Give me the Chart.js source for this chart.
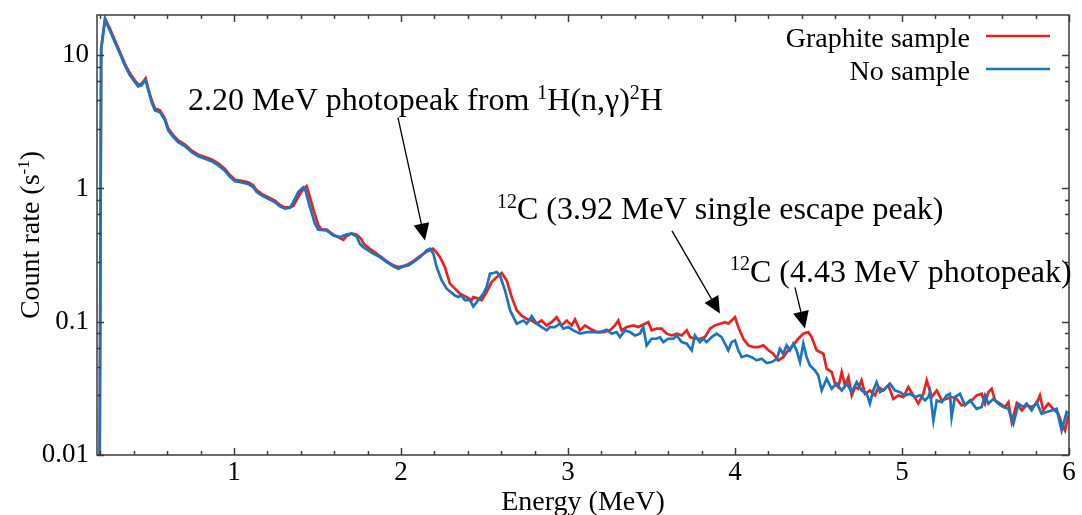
<!DOCTYPE html>
<html>
<head>
<meta charset="utf-8">
<script src="https://cdn.jsdelivr.net/npm/chart.js@4.4.1/dist/chart.umd.min.js"></script>
<style>
  body { margin: 0; background: #fff; }
</style>
</head>
<body>
<canvas id="spectrum" width="1082" height="515"></canvas>
<script>
// Graphite sample spectrum (MeV, counts/s)
const graphiteEnergy = [0.195, 0.205, 0.228, 0.257, 0.287, 0.317, 0.347, 0.377, 0.407, 0.427, 0.447, 0.471, 0.487, 0.507, 0.527, 0.557, 0.587, 0.607, 0.637, 0.666, 0.707, 0.747, 0.786, 0.826, 0.866, 0.906, 0.946, 0.976, 1.006, 1.046, 1.086, 1.116, 1.136, 1.166, 1.205, 1.245, 1.275, 1.305, 1.335, 1.355, 1.385, 1.415, 1.435, 1.445, 1.475, 1.505, 1.525, 1.555, 1.595, 1.655, 1.675, 1.705, 1.735, 1.76, 1.78, 1.81, 1.84, 1.874, 1.914, 1.954, 1.984, 2.014, 2.044, 2.074, 2.114, 2.154, 2.192, 2.214, 2.234, 2.263, 2.293, 2.323, 2.353, 2.393, 2.423, 2.433, 2.463, 2.483, 2.513, 2.543, 2.573, 2.603, 2.633, 2.663, 2.693, 2.722, 2.752, 2.782, 2.812, 2.842, 2.872, 2.902, 2.932, 2.962, 2.992, 3.022, 3.042, 3.072, 3.102, 3.132, 3.172, 3.211, 3.251, 3.281, 3.301, 3.321, 3.351, 3.391, 3.421, 3.461, 3.481, 3.501, 3.531, 3.561, 3.591, 3.621, 3.651, 3.681, 3.711, 3.731, 3.76, 3.79, 3.82, 3.85, 3.88, 3.91, 3.94, 3.96, 3.98, 4.0, 4.02, 4.05, 4.08, 4.11, 4.14, 4.17, 4.2, 4.229, 4.259, 4.289, 4.319, 4.349, 4.379, 4.409, 4.439, 4.459, 4.489, 4.529, 4.549, 4.579, 4.599, 4.619, 4.639, 4.659, 4.679, 4.699, 4.719, 4.738, 4.758, 4.778, 4.808, 4.838, 4.858, 4.888, 4.918, 4.948, 4.978, 5.008, 5.038, 5.068, 5.098, 5.128, 5.148, 5.178, 5.208, 5.238, 5.268, 5.297, 5.327, 5.357, 5.387, 5.417, 5.447, 5.477, 5.497, 5.517, 5.537, 5.557, 5.587, 5.617, 5.637, 5.657, 5.687, 5.717, 5.746, 5.776, 5.806, 5.826, 5.846, 5.876, 5.906, 5.936, 5.956, 5.976, 5.996];
const graphiteRate = [0.004, 11.3, 18.9, 15.8, 12.9, 10.6, 8.6, 7.3, 6.45, 6.0, 6.1, 6.7, 5.6, 4.6, 3.97, 3.85, 3.34, 2.81, 2.5, 2.29, 2.13, 1.92, 1.79, 1.72, 1.65, 1.54, 1.4, 1.26, 1.16, 1.14, 1.11, 1.05, 0.97, 0.91, 0.86, 0.81, 0.75, 0.72, 0.72, 0.74, 0.86, 0.99, 1.04, 0.95, 0.7, 0.53, 0.49, 0.49, 0.45, 0.412, 0.44, 0.46, 0.45, 0.42, 0.38, 0.355, 0.335, 0.31, 0.285, 0.265, 0.257, 0.262, 0.27, 0.285, 0.31, 0.335, 0.353, 0.33, 0.305, 0.257, 0.193, 0.177, 0.162, 0.153, 0.145, 0.153, 0.149, 0.145, 0.167, 0.198, 0.216, 0.232, 0.204, 0.153, 0.122, 0.111, 0.105, 0.102, 0.0966, 0.102, 0.0938, 0.0993, 0.108, 0.0938, 0.102, 0.0938, 0.104, 0.0861, 0.0938, 0.0886, 0.0836, 0.0836, 0.0861, 0.0938, 0.102, 0.0861, 0.0912, 0.0938, 0.0912, 0.0966, 0.0993, 0.0861, 0.0886, 0.0886, 0.0813, 0.0789, 0.0813, 0.0789, 0.0861, 0.0766, 0.0745, 0.0745, 0.0766, 0.0886, 0.0938, 0.0966, 0.0993, 0.0966, 0.102, 0.108, 0.0912, 0.0745, 0.0664, 0.0645, 0.0645, 0.0664, 0.061, 0.0575, 0.0513, 0.0542, 0.061, 0.0664, 0.0745, 0.0813, 0.0836, 0.0766, 0.061, 0.0575, 0.0444, 0.0419, 0.0343, 0.0323, 0.0419, 0.0333, 0.0384, 0.028, 0.0323, 0.0314, 0.0363, 0.0288, 0.0305, 0.028, 0.0323, 0.0305, 0.0333, 0.0264, 0.028, 0.0272, 0.0323, 0.028, 0.0243, 0.0288, 0.0363, 0.0272, 0.0305, 0.0257, 0.0264, 0.0272, 0.0264, 0.0236, 0.0243, 0.0257, 0.028, 0.0288, 0.0243, 0.0296, 0.0314, 0.0257, 0.0243, 0.0229, 0.0249, 0.0177, 0.0243, 0.0216, 0.0236, 0.0229, 0.0243, 0.028, 0.0216, 0.0243, 0.0222, 0.0204, 0.0172, 0.0153, 0.0198];

// Background run, no sample
const noSampleEnergy = [0.195, 0.205, 0.228, 0.257, 0.287, 0.317, 0.347, 0.377, 0.407, 0.427, 0.447, 0.471, 0.487, 0.507, 0.527, 0.557, 0.587, 0.607, 0.637, 0.666, 0.707, 0.747, 0.786, 0.826, 0.866, 0.906, 0.946, 0.976, 1.006, 1.046, 1.086, 1.116, 1.136, 1.166, 1.205, 1.245, 1.275, 1.305, 1.335, 1.355, 1.385, 1.415, 1.425, 1.455, 1.485, 1.505, 1.555, 1.595, 1.635, 1.675, 1.705, 1.735, 1.754, 1.774, 1.804, 1.834, 1.874, 1.914, 1.954, 1.984, 2.014, 2.044, 2.074, 2.114, 2.154, 2.174, 2.194, 2.214, 2.244, 2.274, 2.323, 2.343, 2.363, 2.383, 2.413, 2.433, 2.463, 2.493, 2.513, 2.533, 2.553, 2.573, 2.593, 2.623, 2.653, 2.693, 2.733, 2.753, 2.783, 2.813, 2.843, 2.872, 2.892, 2.922, 2.952, 2.972, 3.002, 3.032, 3.072, 3.112, 3.152, 3.192, 3.232, 3.262, 3.291, 3.311, 3.341, 3.371, 3.401, 3.431, 3.451, 3.471, 3.501, 3.531, 3.551, 3.571, 3.601, 3.631, 3.651, 3.681, 3.711, 3.741, 3.76, 3.79, 3.81, 3.83, 3.86, 3.89, 3.92, 3.94, 3.96, 3.98, 4.0, 4.02, 4.04, 4.07, 4.1, 4.13, 4.16, 4.19, 4.22, 4.25, 4.269, 4.289, 4.309, 4.329, 4.349, 4.369, 4.389, 4.409, 4.429, 4.449, 4.479, 4.499, 4.519, 4.549, 4.579, 4.609, 4.639, 4.669, 4.699, 4.729, 4.759, 4.789, 4.808, 4.828, 4.848, 4.868, 4.898, 4.928, 4.958, 4.988, 5.018, 5.048, 5.078, 5.108, 5.138, 5.158, 5.168, 5.188, 5.208, 5.238, 5.268, 5.287, 5.297, 5.317, 5.347, 5.377, 5.407, 5.447, 5.477, 5.497, 5.517, 5.547, 5.577, 5.607, 5.637, 5.667, 5.697, 5.727, 5.746, 5.776, 5.806, 5.836, 5.866, 5.896, 5.926, 5.956, 5.986, 6.0];
const noSampleRate = [0.004, 11.0, 18.4, 15.3, 12.5, 10.3, 8.37, 7.05, 6.27, 5.82, 5.93, 6.54, 5.43, 4.44, 3.85, 3.73, 3.24, 2.72, 2.43, 2.22, 2.07, 1.87, 1.74, 1.67, 1.6, 1.49, 1.36, 1.22, 1.13, 1.11, 1.08, 1.02, 0.938, 0.886, 0.837, 0.789, 0.733, 0.705, 0.717, 0.789, 0.938, 1.02, 0.995, 0.724, 0.543, 0.49, 0.484, 0.444, 0.431, 0.452, 0.457, 0.436, 0.385, 0.363, 0.343, 0.324, 0.305, 0.28, 0.26, 0.25, 0.26, 0.264, 0.28, 0.305, 0.343, 0.353, 0.324, 0.257, 0.204, 0.177, 0.157, 0.153, 0.157, 0.145, 0.145, 0.13, 0.145, 0.162, 0.182, 0.229, 0.232, 0.236, 0.222, 0.172, 0.122, 0.0966, 0.102, 0.0966, 0.11, 0.0966, 0.0912, 0.0861, 0.0912, 0.0912, 0.0966, 0.0886, 0.0912, 0.0861, 0.0813, 0.0836, 0.0836, 0.0836, 0.0871, 0.0813, 0.0836, 0.0766, 0.0861, 0.0836, 0.0789, 0.0813, 0.0912, 0.0664, 0.0745, 0.0745, 0.0766, 0.0703, 0.0745, 0.0745, 0.0789, 0.0703, 0.0684, 0.061, 0.0789, 0.0703, 0.0745, 0.0703, 0.0766, 0.0813, 0.0766, 0.0684, 0.061, 0.0703, 0.0724, 0.061, 0.0542, 0.0558, 0.0542, 0.0513, 0.0527, 0.0489, 0.0498, 0.0527, 0.0627, 0.0575, 0.0664, 0.061, 0.0684, 0.061, 0.0498, 0.0684, 0.0542, 0.047, 0.0431, 0.0395, 0.0305, 0.0373, 0.0314, 0.0343, 0.0305, 0.0343, 0.0296, 0.0352, 0.0305, 0.0288, 0.0243, 0.0305, 0.0352, 0.0296, 0.0314, 0.0343, 0.0305, 0.0296, 0.028, 0.0288, 0.0272, 0.028, 0.0257, 0.0272, 0.0296, 0.0182, 0.0257, 0.0249, 0.028, 0.0288, 0.0192, 0.0272, 0.0288, 0.0236, 0.0257, 0.0222, 0.0229, 0.028, 0.0243, 0.0264, 0.0243, 0.0229, 0.0222, 0.0172, 0.0243, 0.0229, 0.0243, 0.0216, 0.0249, 0.0204, 0.021, 0.0216, 0.0222, 0.0153, 0.021, 0.0204];

const xTickValues = [1, 2, 3, 4, 5, 6];
const yTickValues = [0.01, 0.1, 1, 10];

const serif = 'Liberation Serif, Times New Roman, serif';

// labelled peaks: text anchor (left, baseline) and arrow, in data coordinates
const notes = [
  { parts: [['2.20 MeV photopeak from '], ['1', 1], ['H(n,\u03b3)'], ['2', 1], ['H']], at: [0.725, 3.85], from: [1.982, 3.4], to: [2.144, 0.407] },
  { parts: [['12', 1], ['C (3.92 MeV single escape peak)']], at: [2.575, 0.585], from: [3.623, 0.48], to: [3.91, 0.115] },
  { parts: [['12', 1], ['C (4.43 MeV photopeak)']], at: [3.97, 0.2], from: [4.359, 0.181], to: [4.419, 0.0891] }
];

function toPoints(xs, ys) {
  return xs.map((e, i) => ({ x: e, y: ys[i] }));
}

function richText(ctx, parts, x, y, size) {
  let cx = x;
  parts.forEach(p => {
    const sup = p[1];
    ctx.font = (sup ? Math.round(size * 0.62) : size) + 'px ' + serif;
    ctx.fillText(p[0], cx, sup ? y - size * 0.36 : y);
    cx += ctx.measureText(p[0]).width;
  });
}

const framePlugin = {
  id: 'frame',
  afterDatasetsDraw(chart) {
    const { ctx, chartArea: a, scales: { x, y } } = chart;
    ctx.save();
    ctx.strokeStyle = '#3c3c3c';
    ctx.lineWidth = 1.5;
    ctx.strokeRect(a.left, a.top, a.right - a.left, a.bottom - a.top);

    ctx.beginPath();
    for (let k = 1; k <= 30; k++) {
      const v = k / 5;
      if (v < x.min) continue;
      const len = k % 5 === 0 ? 7 : 4;
      const px = Math.round(x.getPixelForValue(v)) + 0.5;
      ctx.moveTo(px, a.bottom); ctx.lineTo(px, a.bottom - len);
      ctx.moveTo(px, a.top); ctx.lineTo(px, a.top + len);
    }
    yTickValues.forEach(d => {
      for (let k = 0; k < 5; k++) {
        const v = d * (1 + 1.8 * k);
        if (v > y.max) continue;
        const len = k === 0 ? 7 : 4;
        const py = Math.round(y.getPixelForValue(v)) + 0.5;
        ctx.moveTo(a.left, py); ctx.lineTo(a.left + len, py);
        ctx.moveTo(a.right, py); ctx.lineTo(a.right - len, py);
      }
    });
    ctx.stroke();

    // y-axis title with superscript
    ctx.fillStyle = '#000';
    ctx.translate(39, (a.top + a.bottom) / 2);
    ctx.rotate(-Math.PI / 2);
    const titleParts = [['Count rate (s'], ['-1', 1], [')']];
    let w = 0;
    titleParts.forEach(p => {
      ctx.font = (p[1] ? 17 : 28) + 'px ' + serif;
      w += ctx.measureText(p[0]).width;
    });
    richText(ctx, titleParts, -w / 2, 0, 28);
    ctx.setTransform(1, 0, 0, 1, 0, 0);

    // annotations and arrows
    notes.forEach(n => {
      ctx.fillStyle = '#000';
      richText(ctx, n.parts, x.getPixelForValue(n.at[0]), y.getPixelForValue(n.at[1]), 32);
      const x0 = x.getPixelForValue(n.from[0]), y0 = y.getPixelForValue(n.from[1]);
      const x1 = x.getPixelForValue(n.to[0]), y1 = y.getPixelForValue(n.to[1]);
      const ang = Math.atan2(y1 - y0, x1 - x0);
      const head = 17, half = 8;
      const bx = x1 - head * Math.cos(ang), by = y1 - head * Math.sin(ang);
      ctx.strokeStyle = '#000';
      ctx.lineWidth = 1.3;
      ctx.beginPath();
      ctx.moveTo(x0, y0); ctx.lineTo(bx, by);
      ctx.stroke();
      ctx.beginPath();
      ctx.moveTo(x1, y1);
      ctx.lineTo(bx + half * Math.sin(ang), by - half * Math.cos(ang));
      ctx.lineTo(bx - half * Math.sin(ang), by + half * Math.cos(ang));
      ctx.closePath();
      ctx.fill();
    });

    // legend, gnuplot style: text then line sample
    ctx.font = '28px ' + serif;
    ctx.textAlign = 'right';
    chart.data.datasets.forEach((ds, i) => {
      const ly = a.top + 21 + i * 33;
      ctx.fillStyle = '#000';
      ctx.fillText(ds.label, a.right - 99, ly + 11);
      ctx.strokeStyle = ds.borderColor;
      ctx.lineWidth = 2.5;
      ctx.beginPath();
      ctx.moveTo(a.right - 83, ly); ctx.lineTo(a.right - 19, ly);
      ctx.stroke();
    });
    ctx.restore();
  }
};

new Chart(document.getElementById('spectrum'), {
  type: 'line',
  data: {
    datasets: [{
      label: 'Graphite sample',
      data: toPoints(graphiteEnergy, graphiteRate),
      borderColor: '#e8231f',
      borderWidth: 2.7,
      pointRadius: 0,
      tension: 0,
      order: 2
    }, {
      label: 'No sample',
      data: toPoints(noSampleEnergy, noSampleRate),
      borderColor: '#1c74bb',
      borderWidth: 2.7,
      pointRadius: 0,
      tension: 0,
      order: 1
    }]
  },
  options: {
    responsive: false,
    animation: false,
    devicePixelRatio: 1,
    layout: { padding: { top: 15, right: 13, left: 0, bottom: 0 } },
    plugins: { legend: { display: false }, tooltip: { enabled: false } },
    scales: {
      x: {
        type: 'linear',
        min: 0.18,
        max: 6,
        afterBuildTicks: s => { s.ticks = xTickValues.map(v => ({ value: v })); },
        afterFit: s => { s.height = 60; s.paddingLeft = 0; s.paddingRight = 0; },
        grid: { display: false, drawTicks: false },
        border: { display: false },
        ticks: { color: '#000', padding: 2, font: { family: serif, size: 27 } },
        title: { display: true, text: 'Energy (MeV)', color: '#000', padding: 0, font: { family: serif, size: 28, lineHeight: 0.9 } }
      },
      y: {
        type: 'logarithmic',
        min: 0.01,
        max: 20,
        afterBuildTicks: s => { s.ticks = yTickValues.map(v => ({ value: v })); },
        afterFit: s => { s.width = 97; s.paddingTop = 0; s.paddingBottom = 0; },
        grid: { display: false, drawTicks: false },
        border: { display: false },
        ticks: { color: '#000', padding: 8, font: { family: serif, size: 27 }, callback: v => String(v) }
      }
    }
  },
  plugins: [framePlugin]
});
</script>
</body>
</html>
